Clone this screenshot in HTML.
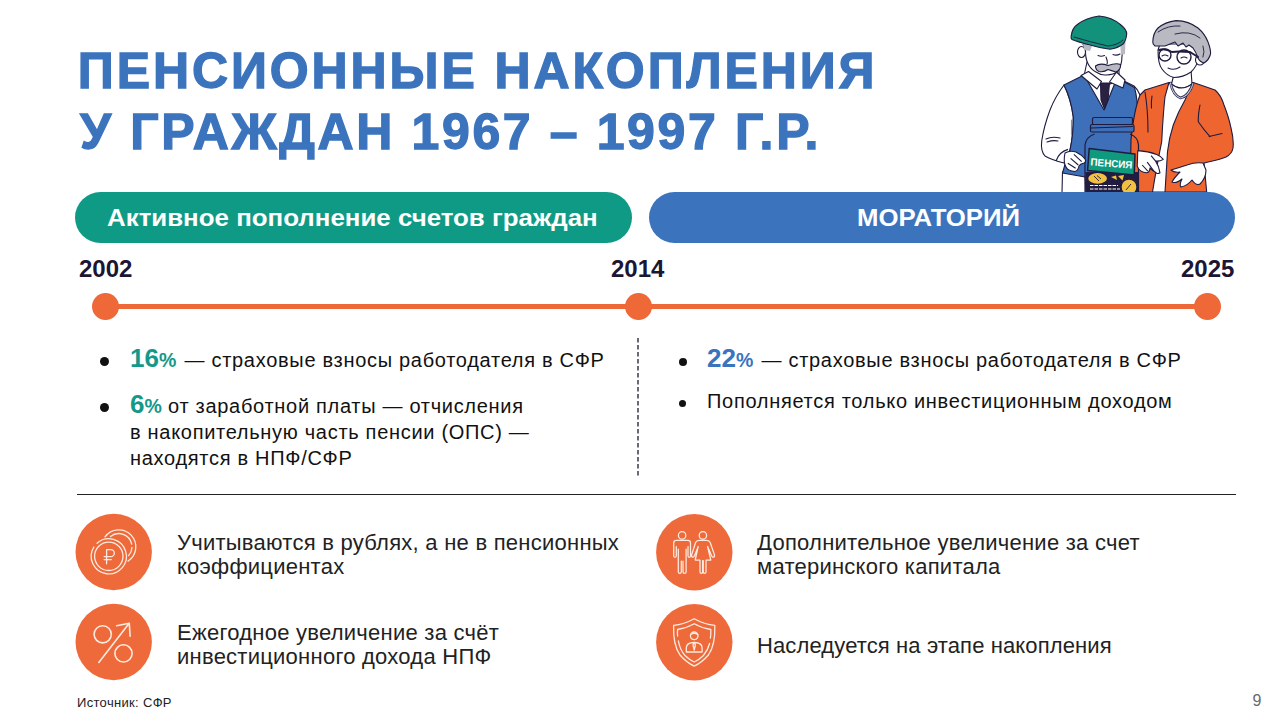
<!DOCTYPE html>
<html lang="ru">
<head>
<meta charset="utf-8">
<style>
*{margin:0;padding:0;box-sizing:border-box}
html,body{width:1280px;height:720px;overflow:hidden;background:#fff}
body{position:relative;font-family:"Liberation Sans",sans-serif;color:#111}
.abs{position:absolute;white-space:nowrap}
.title{left:78px;font-weight:bold;color:#3b74bd;font-size:50px;line-height:1;transform-origin:0 0;-webkit-text-stroke:1.3px #3b74bd}
.pill{position:absolute;top:192px;height:51px;border-radius:26px;color:#fff;font-weight:bold;font-size:23px;text-align:center;line-height:51px}
.pt{top:192px;height:51px;line-height:51px;color:#fff;font-weight:bold;font-size:23px;transform-origin:0 0}
.year{position:absolute;top:256px;font-weight:bold;font-size:24px;color:#1a1634;line-height:1.1}
.tl{position:absolute;left:105px;top:304.1px;width:1102px;height:4.6px;background:#ee6838}
.dot{position:absolute;width:27px;height:27px;border-radius:50%;background:#ee6838;top:293px}
.bl{position:absolute;font-size:20px;line-height:26.4px;color:#111;letter-spacing:0.7px}
.bul{position:absolute;width:8px;height:8px;border-radius:50%;background:#111}
.pct{font-weight:bold;font-size:26px;letter-spacing:0;margin-right:2px}
.pct small{font-size:19.5px;font-weight:bold}
.hr{position:absolute;left:77px;top:494px;width:1159px;height:1px;background:#222}
.ic{position:absolute;width:77px;height:77px;border-radius:50%;background:#ef6a3a}
.ic svg{position:absolute;left:0;top:0}
.ft{position:absolute;font-size:22px;line-height:24px;color:#222;letter-spacing:0.25px}
</style>
</head>
<body>
<div class="abs title" style="top:46px;left:77.8px;letter-spacing:2.9px">ПЕНСИОННЫЕ НАКОПЛЕНИЯ</div>
<div class="abs title" style="top:107px;left:80px;letter-spacing:2.62px">У ГРАЖДАН 1967 – 1997 Г.Р.</div>

<svg width="1280" height="192" viewBox="0 0 1280 192" style="position:absolute;left:0;top:0">
<g stroke="#1f1b3f" stroke-width="1.1" stroke-linejoin="round" stroke-linecap="round">
<!-- man right sleeve (behind) -->
<path fill="#fff" d="M1116,77 L1134,86 Q1141,92 1143,108 L1145,128 L1136,136 Z"/>
<!-- man left sleeve -->
<path fill="#fff" d="M1064,85 Q1055,97 1050,110 Q1044,126 1041.7,141 Q1040.5,151 1045,156 Q1052,160 1064,163 L1070,150 Q1073.5,134 1073.3,117 Q1071,99 1064,85 Z"/>
<path fill="none" d="M1046,139 Q1052,136 1060,138 M1047,142 Q1053,140 1058,141"/>
<!-- pants -->
<path fill="#fff" d="M1062.5,172 L1062,193 L1086,193 L1085,175 Z"/>
<!-- neck -->
<path fill="#fff" d="M1087,62 L1084,76 Q1098,92 1119,80 L1119,66 Z"/>
<!-- vest -->
<path fill="#3d70b9" d="M1064,85 L1084,75 L1104,110 L1117,78 L1134.5,87.5 Q1138,100 1138,120 L1137,178 L1085,177 L1062.5,173 Q1066,160 1070,150 Q1073.5,134 1073.3,117 Q1071,99 1064,85 Z"/>
<path fill="none" stroke="#8a8aa0" d="M1071.5,120 L1071.5,135"/>
<!-- collar -->
<path fill="#fff" d="M1081,75.5 L1088.5,71.5 L1101.5,81.5 L1097,89 Z"/>
<path fill="#fff" d="M1116.5,72 L1125,80 L1123,88 L1109.5,82 Z"/>
<!-- tie -->
<path fill="#2b2140" d="M1100.5,83 L1109.5,83 L1108,100 L1104.5,109 L1101,100 Z"/>
<!-- face -->
<path fill="#fff" d="M1085.5,50 Q1085,66 1096,72 Q1101,75.5 1106.5,75 Q1114,74.5 1117,72 Q1122,66 1122,56 L1124,44 L1083,44 Z"/>
<ellipse cx="1081.5" cy="52" rx="4" ry="5.5" fill="#fff"/>
<path fill="#b9b9c2" stroke="none" d="M1083,44 L1092,46 L1090,51 L1084,50 Z M1120,42 L1125.5,41 L1125,54 L1121,55 Z"/>
<path fill="#b9b9c2" d="M1095.5,66 Q1100,62.5 1108,65.5 Q1116,62.5 1120.5,64.5 Q1121,70 1116,72 Q1111,70.5 1108,69.5 Q1104,72.5 1099,71.5 Q1095.5,70 1095.5,66 Z"/>
<path fill="none" d="M1098,55.5 Q1101,57 1104.5,55.5 M1113,54.5 Q1116.5,56 1120,54 M1106,57 Q1108,62 1107,64"/>
<!-- cap -->
<path fill="#12917b" d="M1071.2,36 Q1072,28 1078,24 Q1086,18 1099,16 Q1112,17 1121,25 Q1127,30 1126.7,34 Q1126,41 1123,44 Q1118,48 1110,49.3 Q1100,48 1090,45 Q1078,42 1072,39.5 Q1070.5,38 1071.2,36 Z"/>
<path fill="none" stroke-width="0.9" d="M1074,37 Q1090,42 1108,46 Q1118,45 1123,40"/>
<!-- woman cardigan -->
<path fill="#ee6530" d="M1145,90 L1169,82.5 L1193.3,82.5 L1215,90 Q1221,95 1224,105 Q1229,118 1231,128 Q1234,140 1233,148 Q1232,154 1226,157 Q1221,159 1216.7,160 L1204,163 L1206.7,192 L1130,192 L1131,140 Q1134,110 1140,95 Z"/>
<path fill="none" d="M1200,105 Q1198,115 1198.3,121.7 Q1204,130 1210,136.7 M1209,136.5 L1222,133.5 M1145,92 Q1148,110 1148,132 M1152,96 Q1151,102 1151.5,108"/>
<!-- woman neck -->
<path fill="#fff" d="M1174.5,72 L1171.5,84 Q1181,92 1192,84 L1191,70 Z"/>
<!-- woman blouse -->
<path fill="#fff" d="M1169,82.5 L1171.5,84 Q1181,92 1192,84 L1193.3,82.5 Q1188,92 1185,100 Q1178,112 1173.3,125 Q1169,138 1167.5,151.7 L1165,192 L1152.5,192 Q1157,165 1161.7,141.7 Q1163,115 1165,96.7 Z"/>
<path fill="none" stroke="#2f2d55" stroke-width="2.6" d="M1170.5,83 Q1173,95 1180.5,98 Q1189,96 1193,83.5"/><path fill="none" stroke="#c9cbe0" stroke-width="1.1" stroke-dasharray="1.2 1" d="M1170.5,83 Q1173,95 1180.5,98 Q1189,96 1193,83.5"/>
<!-- woman face -->
<path fill="#fff" d="M1158,50 Q1158,64 1162,69 Q1167,76 1174,77.5 Q1183,77.5 1191,72 Q1197,66 1198,60 L1198,44 L1160,44 Z"/>
<ellipse cx="1200" cy="60" rx="4.5" ry="5" fill="#fff"/>
<!-- hair -->
<path fill="#b9b9c2" d="M1152.8,42 Q1153,33 1158,28 Q1165,22 1176,20.6 Q1189,21 1198,28 Q1205,34 1208,42 Q1211,50 1210.5,54 Q1209,60 1204,63 Q1200,62 1198,58 Q1196,52 1193,48 L1189,45 L1186,47 L1183,43 L1178,46 L1175,42 L1170,44 L1165,46 Q1160,46 1155,46 Q1152.5,44 1152.8,42 Z"/>
<path fill="none" stroke-width="0.9" d="M1158,32 Q1168,25 1180,26 M1175,34 Q1190,30 1200,38 M1203,46 Q1205,52 1203,57"/>
<!-- glasses -->
<circle cx="1165" cy="55" r="6" fill="none" stroke-width="1.4"/>
<circle cx="1184" cy="57" r="7" fill="none" stroke-width="1.4"/>
<path fill="none" stroke-width="2" d="M1159,50 Q1165,48 1172,52 Q1178,51 1190,52 L1198,57"/>
<path fill="none" d="M1162,56 Q1165,54 1168,56 M1181,58 Q1184,56 1187,58 M1168,68 Q1174,71 1180,67"/>
<!-- woman hand right -->
<path fill="#fff" d="M1203,163 Q1195,162 1187,165 Q1178,168 1171,170 Q1174,173 1180,172 Q1174,178 1172,182 Q1176,184 1182,179 Q1179,185 1181,187 Q1187,186 1192,180 Q1196,186 1200,184 Q1206,178 1206,170 Z"/>
</g>
<!-- jar -->
<g stroke="#1f1b3f" stroke-width="1.2" stroke-linejoin="round">
<path fill="none" d="M1094.5,134 Q1086,137 1085,145 L1085,192 M1130,134 Q1138,137 1138.5,145 L1138.5,192"/>
<rect x="1092.5" y="117.5" width="40" height="7" rx="1.5" fill="#3d70b9"/>
<rect x="1090.5" y="124.5" width="43.5" height="7.5" rx="1.5" fill="#3d70b9"/>
<path fill="none" d="M1091,128 L1133,126.5"/>
<path fill="#221d40" stroke="none" d="M1085.5,172 L1138,172 L1138,192 L1085.5,192 Z"/>
<ellipse cx="1097.6" cy="178.4" rx="10" ry="6" fill="#f2c140" stroke-width="1.3"/>
<path fill="#f2c140" stroke="none" d="M1111,177 L1116,175.5 L1117,180 Z M1118,176 L1124,175 L1122.5,180.5 Z"/>
<circle cx="1129" cy="187" r="8" fill="#f2c140" stroke-width="1.3"/>
<path fill="none" stroke="#fff" stroke-width="1.1" stroke-dasharray="3.5 1" d="M1090,185.5 L1118,185.5 M1090,189 L1120,189"/>
<path fill="none" stroke-width="0.9" d="M1094,176 L1099,181 M1097,175.5 L1101,179 M1126,190 L1131,184"/>
<path fill="#0f9a7e" stroke-width="1.5" d="M1089.2,148.4 L1135,154.1 L1134.2,175.1 L1087.6,170.5 Z"/>
</g>
<text x="1111.5" y="167" text-anchor="middle" transform="rotate(4.5 1111.5 163.5)" fill="#fff" font-family="Liberation Sans" font-weight="bold" font-size="10.3" textLength="42" lengthAdjust="spacingAndGlyphs">ПЕНСИЯ</text>
<g stroke="#1f1b3f" stroke-width="1.1" stroke-linejoin="round">
<!-- woman left hand on jar -->
<path fill="#fff" d="M1137.8,150.6 Q1148,151 1156.7,154.4 Q1161,156 1163.3,159.4 Q1160,161.5 1155.6,161.1 Q1159,166 1160,172.8 Q1158,174 1156.7,173.3 Q1152,170 1150,168 Q1150,172 1146.7,172.8 Q1143,172.5 1141.1,171.1 Q1138,169 1137.2,166.1 Z"/><path fill="none" d="M1151.1,155.6 L1155.6,161.1 M1147.2,162.2 L1153.9,171.1 M1142.2,165 L1147.8,171.1"/>
<!-- man hand -->
<path fill="#fff" d="M1065,153 Q1070,150 1076,152 Q1082,155 1085,159 Q1086.5,162 1084,163 Q1080,164 1079,166 Q1078,171 1075,171.5 Q1068,171 1066,167 Q1063,162 1065,153 Z"/><path fill="none" d="M1073.9,154.4 L1081.7,161.7 M1070.6,158.3 L1078.3,165 M1067.8,163.3 L1075.6,168.3 M1056,161 Q1059,152 1068,149.4"/>
</g>
</svg>

<div class="pill" style="left:75px;width:557px;background:#0f9a85"></div><div class="abs pt" style="left:107px;top:193px;transform:scaleX(1.125)">Активное пополнение счетов граждан</div>
<div class="pill" style="left:649px;width:586px;background:#3b74bd"></div><div class="abs pt" style="left:856.5px;top:193px;transform:scaleX(1.12)">МОРАТОРИЙ</div>

<div class="year" style="left:79px">2002</div>
<div class="year" style="left:611px">2014</div>
<div class="year" style="left:1181px">2025</div>
<div class="tl"></div>
<div class="dot" style="left:92px"></div>
<div class="dot" style="left:624.6px"></div>
<div class="dot" style="left:1193.7px"></div>

<div class="bul" style="left:100px;top:356.6px;width:9px;height:9px"></div>
<div class="bl" style="left:130px;top:344.8px"><span class="pct" style="color:#14988a">16<small>%</small></span> — страховые взносы работодателя в СФР</div>
<div class="bul" style="left:100px;top:402.6px;width:9px;height:9px"></div>
<div class="bl" style="left:130px;top:390.6px"><span class="pct" style="color:#14988a;margin-right:0">6<small>%</small></span> от заработной платы — отчисления<br>в накопительную часть пенсии (ОПС) —<br>находятся в НПФ/СФР</div>

<svg width="4" height="150" style="position:absolute;left:636.4px;top:335px"><line x1="2" y1="3" x2="2" y2="142" stroke="#1b1b2b" stroke-width="1.3" stroke-dasharray="4.4 2.6"/></svg>

<div class="bul" style="left:679px;top:357.6px;width:8px;height:8px"></div>
<div class="bl" style="left:707px;top:344.8px"><span class="pct" style="color:#3b74bd">22<small>%</small></span> — страховые взносы работодателя в СФР</div>
<div class="bul" style="left:679px;top:400px;width:7px;height:7px"></div>
<div class="bl" style="left:707px;top:387.9px">Пополняется только инвестиционным доходом</div>

<div class="hr"></div>

<svg width="1280" height="720" viewBox="0 0 1280 720" style="position:absolute;left:0;top:0" fill="none" stroke="#fdebe0" stroke-linecap="round" stroke-linejoin="round">
<circle cx="113.7" cy="552" r="38.2" fill="#ee6a3a" stroke="none"/>
<circle cx="113.7" cy="642" r="38.2" fill="#ee6a3a" stroke="none"/>
<circle cx="694.3" cy="552.2" r="38.2" fill="#ee6a3a" stroke="none"/>
<circle cx="694.3" cy="642.2" r="38.2" fill="#ee6a3a" stroke="none"/>
<!-- coins -->
<g stroke-width="1.3">
<path d="M 97.02,543.22 A 17.6 17.6 0 1 1 93.87,546.97"/>
<circle cx="108.8" cy="556.3" r="14.2"/>
<path d="M 105,536.87 A 17 17 0 1 1 128.01,561.09"/>
<path d="M 110.46,536.57 A 13.2 13.2 0 0 1 131.71,544.06 M 131.98,547.49 A 13.2 13.2 0 0 1 128.59,555.65"/>
<path d="M106.6,563.8 V549.6 H110.8 A3.55 3.55 0 0 1 110.8,556.7 H104.2 M104.2,559.6 H111.4"/>
</g>
<!-- percent -->
<g stroke-width="1.6">
<circle cx="102.7" cy="634.3" r="8.6"/>
<circle cx="123.5" cy="653.4" r="8.6"/>
<path d="M98.8,662.4 L129,623.6 M116.6,625.7 L129.3,623.3 L130.1,636.2"/>
</g>
<!-- people -->
<g stroke-width="1.25">
<circle cx="682.1" cy="535.4" r="3.7"/>
<circle cx="702.9" cy="535.4" r="3.7"/>
<path d="M682.1,540.3 H688 Q690.5,540.3 690.5,543 V555.8 Q690.5,557.3 689.2,557.3 Q688,557.3 688,555.8 V546.5 M686.1,549 V572 Q686.1,573.4 684.5,573.4 Q683,573.4 683,572 V561 M681.3,561 V572 Q681.3,573.4 679.8,573.4 Q678.3,573.4 678.3,572 V549 M676.3,546.5 V555.8 Q676.3,557.3 675,557.3 Q673.7,557.3 673.7,555.8 V543 Q673.7,540.3 676.3,540.3 H682.1"/>
<path d="M702.9,540.3 H699 Q696.5,540.3 695.6,542.5 L691.6,555 Q691.2,556.8 692.6,557.1 Q694,557.3 694.5,555.8 L698.2,546.5 L695.2,560 H700 V572 Q700,573.4 701.4,573.4 Q702.6,573.4 702.6,572 V560.5 M703.3,560.5 V572 Q703.3,573.4 704.6,573.4 Q706,573.4 706,572 V560 H710.8 L707.6,546.5 L711.6,555.8 Q712.1,557.3 713.5,557.1 Q714.9,556.8 714.5,555 L710.2,542.5 Q709.3,540.3 706.8,540.3 H702.9"/>
</g>
<!-- shield -->
<g stroke-width="1.3">
<path d="M694.2,618.8 Q684,624.5 673.6,625.4 Q673,645 680,655 Q686,662 694.2,666.2 Q702.4,662 708.4,655 Q715.4,645 714.8,625.4 Q704.4,624.5 694.2,618.8 Z"/>
<path d="M694.2,623.8 Q686,628.5 677.6,629.5 Q677.3,633 677.6,636 M678.4,641 Q680,650 685,655.5 Q689,659.5 694.2,662 Q699.4,659.5 703.4,655.5 Q708,650 709.6,643.5 M710.4,638 Q711,634 710.8,629.5 Q702.4,628.5 694.2,623.8"/>
<circle cx="694.2" cy="635.8" r="3.8"/>
<path d="M686.3,652 V648 Q686.3,642.5 694.2,642.5 Q702.1,642.5 702.1,648 V652 Z M694.2,642.5 L693,645 L694.2,650 L695.4,645 Z M690.6,634.5 Q694.2,632 697.8,634.5"/>
</g>
</svg>


<div class="ft" style="left:177px;top:531px">Учитываются в рублях, а не в пенсионных<br>коэффициентах</div>
<div class="ft" style="left:177px;top:621px">Ежегодное увеличение за счёт<br>инвестиционного дохода НПФ</div>
<div class="ft" style="left:757px;top:531px">Дополнительное увеличение за счет<br>материнского капитала</div>
<div class="ft" style="left:757px;top:634px;letter-spacing:0.12px">Наследуется на этапе накопления</div>

<div class="abs" style="left:77px;top:695px;font-size:13px;color:#222;letter-spacing:0.32px">Источник: СФР</div>
<div class="abs" style="left:1252.5px;top:692px;font-size:16px;color:#6a6a6a">9</div>
</body>
</html>
